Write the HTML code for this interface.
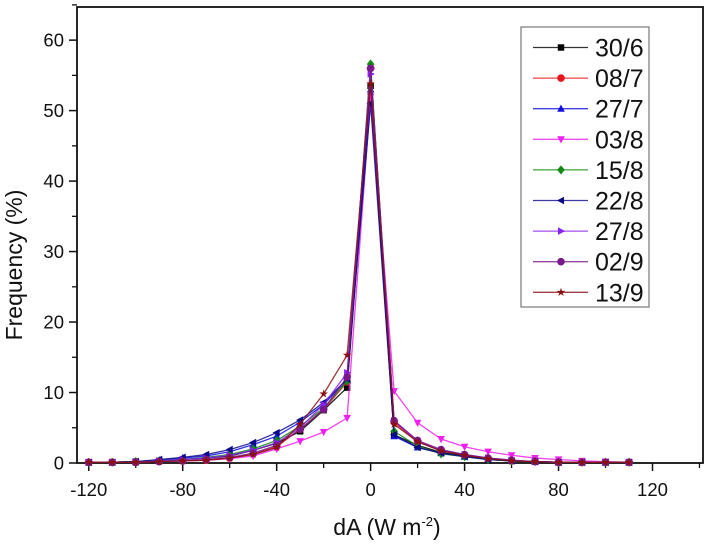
<!DOCTYPE html>
<html><head><meta charset="utf-8"><style>
html,body{margin:0;padding:0;background:#fff;}
svg{display:block;font-family:"Liberation Sans",Arial,sans-serif;}
</style></head><body>
<svg id="chart" width="706" height="546" viewBox="0 0 706 546">
<g id="axes"></g>
<g id="series"></g>
<g id="legend"></g>
<text x="387" y="535" font-size="23" text-anchor="middle" fill="#111">dA (W m<tspan dy="-9" font-size="13">-2</tspan><tspan dy="9">)</tspan></text>
<text transform="translate(22,265) rotate(-90)" font-size="23" text-anchor="middle" fill="#111">Frequency (%)</text>
</svg>
<script>
const xValues = [-120,-110,-100,-90,-80,-70,-60,-50,-40,-30,-20,-10,0,10,20,30,40,50,60,70,80,90,100,110];
const seriesNames = ["30/6","08/7","27/7","03/8","15/8","22/8","27/8","02/9","13/9"];
const s30_6 = [0.1,0.1,0.2,0.3,0.5,0.7,1.0,1.8,2.8,4.5,7.5,10.7,53.5,4.0,2.5,1.5,1.0,0.5,0.3,0.2,0.1,0.1,0.1,0.1];
const s08_7 = [0.1,0.1,0.1,0.2,0.3,0.4,0.7,1.3,2.3,4.8,7.6,11.5,56.0,5.8,3.0,1.8,1.1,0.6,0.3,0.2,0.1,0.1,0.1,0.1];
const s27_7 = [0.1,0.1,0.2,0.4,0.7,1.0,1.6,2.6,3.8,5.8,8.3,11.8,53.0,3.8,2.2,1.4,0.9,0.5,0.3,0.2,0.1,0.1,0.1,0.1];
const s03_8 = [0.1,0.1,0.1,0.2,0.3,0.4,0.6,1.0,2.0,3.1,4.4,6.4,52.0,10.2,5.7,3.4,2.3,1.6,1.1,0.7,0.5,0.3,0.2,0.1];
const s15_8 = [0.1,0.1,0.2,0.3,0.5,0.8,1.2,2.0,3.2,5.2,7.8,11.6,56.6,4.5,2.4,1.3,0.9,0.5,0.3,0.2,0.1,0.1,0.1,0.1];
const s22_8 = [0.1,0.1,0.2,0.5,0.8,1.2,1.9,2.9,4.3,6.1,8.6,11.9,51.0,4.0,2.2,1.4,0.9,0.5,0.3,0.2,0.1,0.1,0.1,0.1];
const s27_8 = [0.1,0.1,0.1,0.3,0.5,0.7,1.1,1.8,2.9,5.0,8.3,12.8,55.2,6.0,3.1,1.8,1.2,0.7,0.4,0.2,0.1,0.1,0.1,0.1];
const s02_9 = [0.1,0.1,0.1,0.2,0.3,0.5,0.8,1.4,2.5,4.8,7.6,12.2,56.0,6.0,3.2,1.9,1.2,0.7,0.4,0.2,0.1,0.1,0.1,0.1];
const s13_9 = [0.1,0.1,0.1,0.2,0.3,0.4,0.7,1.2,2.2,5.5,9.8,15.3,53.8,5.5,3.0,1.7,1.1,0.6,0.3,0.2,0.1,0.1,0.1,0.1];
const xTicks = [-120,-80,-40,0,40,80,120];
const yTicks = [0,10,20,30,40,50,60];

const allSeries = [s30_6,s08_7,s27_7,s03_8,s15_8,s22_8,s27_8,s02_9,s13_9];
const colors = ["#000000","#e8141c","#1010e0","#f020f0","#108a10","#0a0a8a","#8a20f0","#7a1a8a","#8a1010"];
const markers = ["square","circle","up","down","diamond","left","right","circle","star"];

const L=77,R=703,T=7,B=463;
const xMin=-125,xMax=141.5,yMin=0,yMax=64.7;
function sx(v){return L+(v-xMin)/(xMax-xMin)*(R-L);}
function sy(v){return B-(v-yMin)/(yMax-yMin)*(B-T);}
const NS="http://www.w3.org/2000/svg";
function mk(tag,attrs,parent){const e=document.createElementNS(NS,tag);for(const k in attrs)e.setAttribute(k,attrs[k]);parent.appendChild(e);return e;}

const axes=document.getElementById('axes');
const frame=mk('rect',{x:L,y:T,width:R-L,height:B-T,fill:'none',stroke:'#111','stroke-width':1.8},axes);


xTicks.forEach(v=>{
  const t=mk('line',{x1:sx(v),x2:sx(v),y1:B,y2:B+8,stroke:'#111','stroke-width':1.5},axes);
  
  
  const m=mk('line',{x1:sx(v+20),x2:sx(v+20),y1:B,y2:B+5,stroke:'#111','stroke-width':1.3},axes);
  
  
  const lb=mk('text',{x:sx(v),y:496,'font-size':18.5,'text-anchor':'middle',fill:'#111'},axes);
  lb.textContent=v;
  
  
});
yTicks.forEach(v=>{
  const t=mk('line',{x1:L-8,x2:L,y1:sy(v),y2:sy(v),stroke:'#111','stroke-width':1.5},axes);
  
  
  const m=mk('line',{x1:L-5,x2:L,y1:sy(v+5),y2:sy(v+5),stroke:'#111','stroke-width':1.3},axes);
  
  
  const lb=mk('text',{x:L-13,y:sy(v)+6.5,'font-size':18.5,'text-anchor':'end',fill:'#111'},axes);
  lb.textContent=v;
  
  
});

function marker(type,x,y,c,parent,s){
  s=s||3.8;let e;
  if(type==='square')e=mk('rect',{x:x-s*0.85,y:y-s*0.85,width:s*1.7,height:s*1.7,fill:c},parent);
  else if(type==='circle')e=mk('circle',{cx:x,cy:y,r:s,fill:c},parent);
  else{
    let p;
    if(type==='up')p=[[0,-s*1.1],[s,s*0.8],[-s,s*0.8]];
    else if(type==='down')p=[[0,s*1.1],[s,-s*0.8],[-s,-s*0.8]];
    else if(type==='left')p=[[-s*1.1,0],[s*0.8,-s],[s*0.8,s]];
    else if(type==='right')p=[[s*1.1,0],[-s*0.8,-s],[-s*0.8,s]];
    else if(type==='diamond')p=[[0,-s*1.2],[s,0],[0,s*1.2],[-s,0]];
    else{p=[];for(let i=0;i<10;i++){const a=-Math.PI/2+i*Math.PI/5;const r=i%2?s*0.45:s*1.2;p.push([r*Math.cos(a),r*Math.sin(a)]);}}
    e=mk('polygon',{points:p.map(q=>(x+q[0])+','+(y+q[1])).join(' '),fill:c},parent);
  }
  return e;
}

const sg=document.getElementById('series');
allSeries.forEach((vals,i)=>{
  const g=mk('g',{},sg);
  
  
  const ln=mk('polyline',{points:vals.map((v,j)=>sx(xValues[j])+','+sy(v)).join(' '),fill:'none',stroke:colors[i],'stroke-width':1.3,'stroke-opacity':0.85},g);
  
  
  vals.forEach((v,j)=>{
    const m=marker(markers[i],sx(xValues[j]),sy(v),colors[i],g);
    
    
  });
});

const lg=document.getElementById('legend');
const box=mk('rect',{x:521,y:27,width:128,height:280,fill:'#fff',stroke:'#777','stroke-width':1.2},lg);


seriesNames.forEach((n,i)=>{
  const y=47.5+i*30.6;
  const g=mk('g',{},lg);
  
  
  mk('line',{x1:533,x2:588,y1:y,y2:y,stroke:colors[i],'stroke-width':1.3,'stroke-opacity':0.8},g);
  marker(markers[i],561,y,colors[i],g,3.8);
  const t=mk('text',{x:595,y:y+9,'font-size':25,fill:'#111'},g);
  t.textContent=n;
});
</script>
</body></html>
